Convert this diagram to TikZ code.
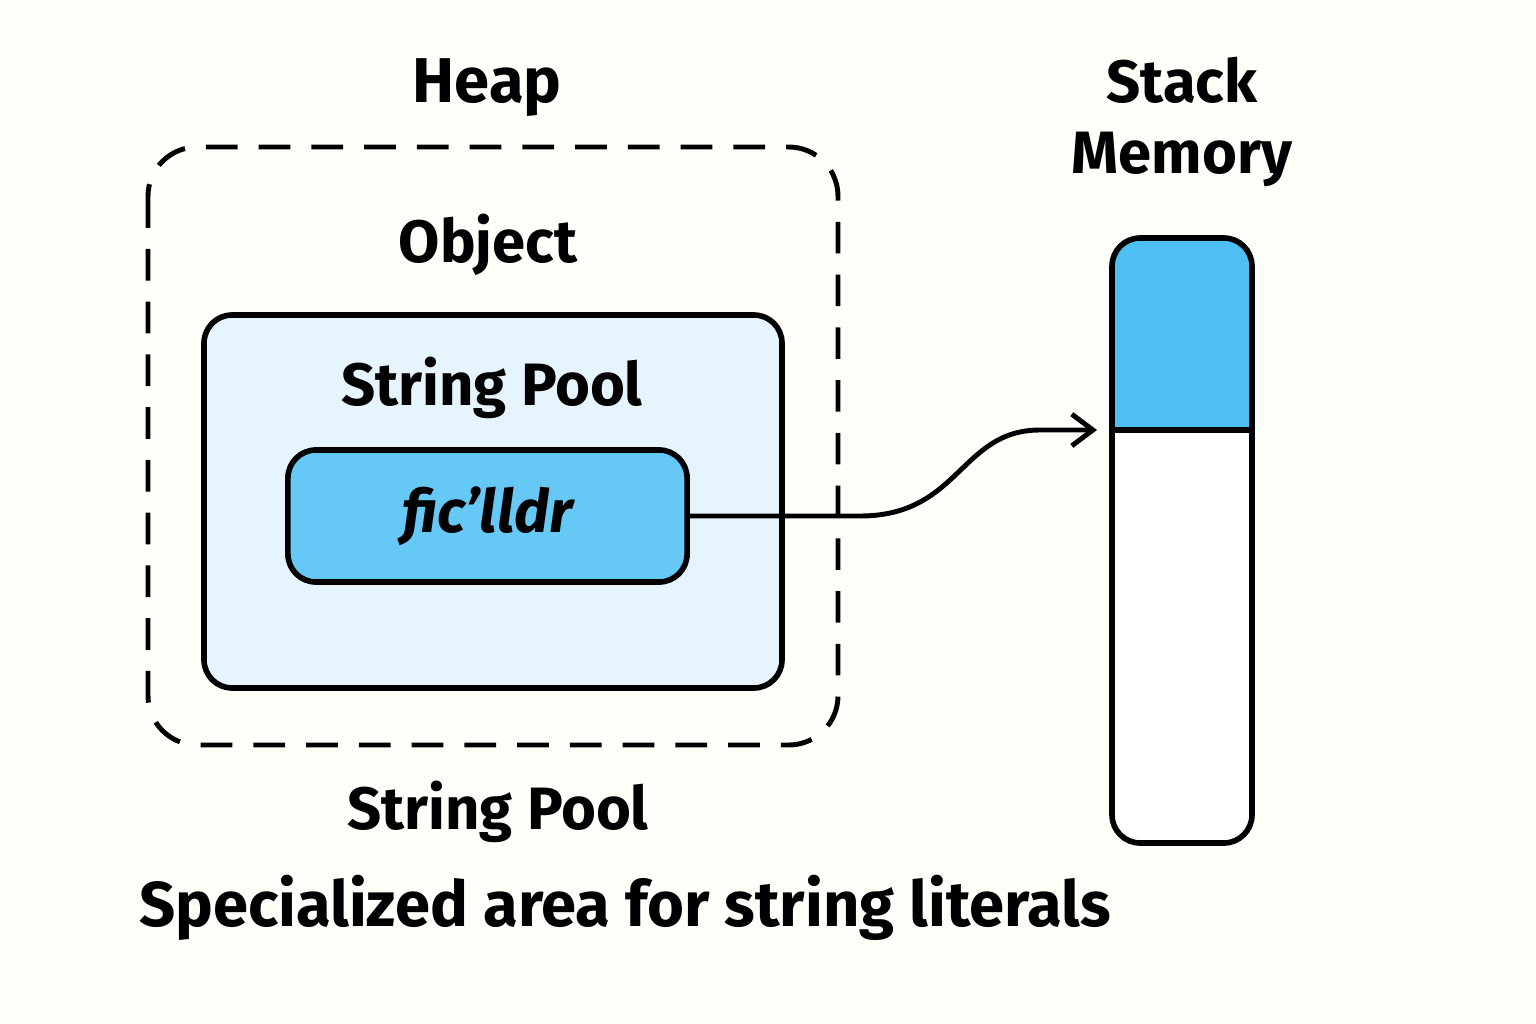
\documentclass[tikz,border=0pt]{standalone}
\usepackage{fontspec}
\setmainfont{Fira Sans}
\usetikzlibrary{arrows.meta,positioning}
\definecolor{poolfill}{HTML}{E6F4FD}
\definecolor{litfill}{HTML}{66C8F4}
\definecolor{stackfill}{HTML}{4DBFF5}
\begin{document}
\begin{tikzpicture}[x=0.01cm,y=-0.01cm]
	\tikzset{box/.style={draw, line width=1.6pt, rounded corners=8pt},
		lbl/.style={font=\fontsize{17}{20}\selectfont\bfseries, align=center}}
	\useasboundingbox[fill=white!98!yellow] (0,0) rectangle (1536,1024);
	\node [lbl, font=\fontsize{18}{21}\selectfont\bfseries] (heap) at (487,88) {Heap};
	\draw [line width=1.4pt, dash pattern=on 9pt off 6pt, rounded corners=14pt] (148,147) rectangle (838,745);
	\node [lbl] (obj) at (488,245) {Object};
	\draw [box, fill=poolfill] (204,315) rectangle (782,688);
	\node [lbl] (pool) at (492,388) {String Pool};
	\node [box, fill=litfill, minimum width=3.99cm, minimum height=1.32cm, font=\fontsize{17}{20}\selectfont\bfseries\itshape] (lit) at (487.5,516) {fic'lldr};
	\node [lbl] (stack) at (1182,122) {Stack\\Memory};
	\begin{scope}
		\clip [rounded corners=8pt] (1112,238) rectangle (1252,843);
		\fill [white] (1112,238) rectangle (1252,843);
		\fill [stackfill] (1112,238) rectangle (1252,430);
	\end{scope}
	\draw [box] (1112,238) rectangle (1252,843);
	\draw [line width=1.6pt] (1112,430) -- (1252,430);
	\coordinate (slot) at (1097,430);
	\draw [line width=1.4pt, -{Straight Barb[length=6pt,width=9pt]}] (lit.east) -- (860,516) .. controls (960,516) and (960,430) .. (1040,430) -- (slot);
	\node [lbl] (pool2) at (498,812) {String Pool};
	\node [lbl, font=\fontsize{18}{22}\selectfont\bfseries] (desc) at (625,908) {Specialized area for string literals};
\end{tikzpicture}
\end{document}
